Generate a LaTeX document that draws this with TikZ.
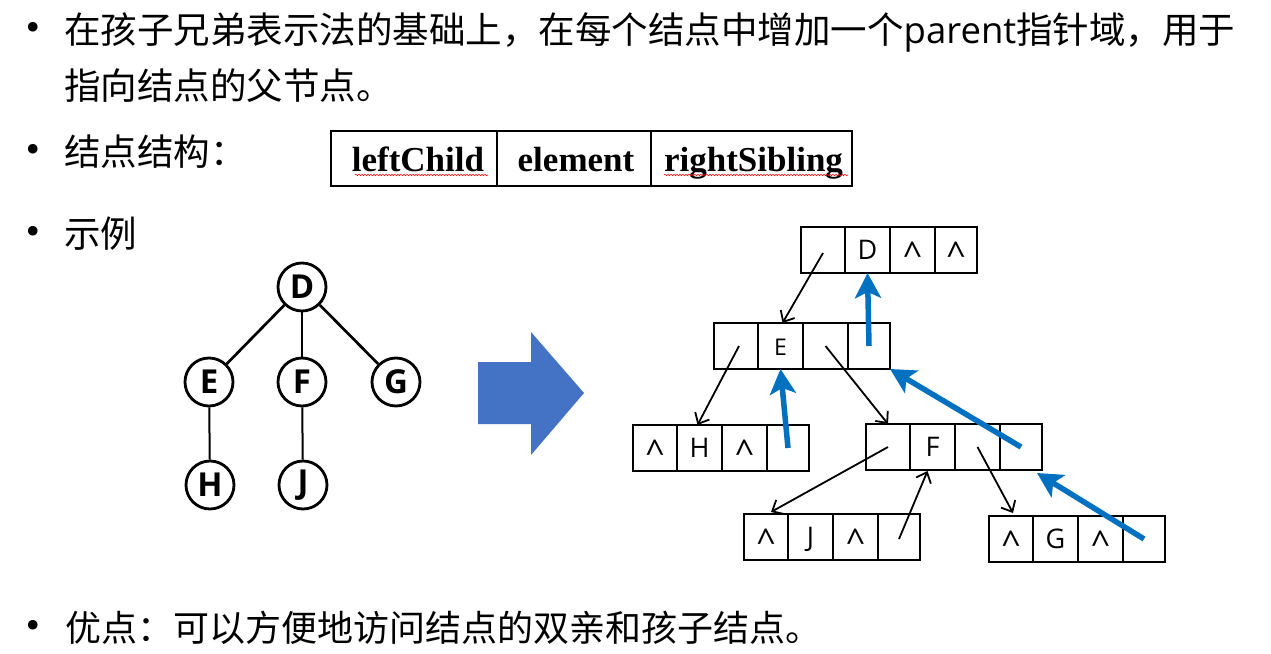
\documentclass[tikz,border=0pt]{standalone}
\usepackage{fontspec}
\setmainfont{Noto Sans CJK SC}
\newfontfamily\osans{Open Sans}
\newfontfamily\tnr{Liberation Serif}
\newfontfamily\djv{DejaVu Sans}
\usetikzlibrary{arrows.meta,decorations.pathmorphing}
\definecolor{bigblue}{HTML}{4472C4}
\definecolor{linkblue}{HTML}{0070C0}
\newcommand\upc{\raisebox{-7pt}{\fontsize{34}{36}\selectfont\textasciicircum}}
\newcommand\mkrecord[7]{%
  \node[cell, minimum width=44pt] (#11) at (#2,#3) {#4};
  \node[cell, minimum width=45pt] (#12) at (#11.north east) {#5};
  \node[cell, minimum width=45pt] (#13) at (#12.north east) {#6};
  \node[cell, minimum width=42pt] (#14) at (#13.north east) {#7};
}
\begin{document}
\begin{tikzpicture}[x=1pt,y=-1pt,
  txt/.style={anchor=base west, inner sep=0pt, font=\fontsize{36.5}{44}\selectfont},
  bul/.style={anchor=base, inner sep=0pt, font=\djv\fontsize{33}{36}\selectfont},
  cell/.style={draw, line width=2.6pt, minimum height=46pt, inner sep=0pt, outer sep=0pt,
    anchor=north west, text height=18pt, text depth=0pt, font=\osans\fontsize{27}{30}\selectfont},
  sc/.style={draw, line width=2.5pt, minimum height=55pt, inner sep=0pt, outer sep=0pt,
    anchor=north west, text height=26pt, text depth=0pt, font=\tnr\bfseries\fontsize{35}{40}\selectfont},
  circ/.style={circle, draw, line width=2.8pt, minimum size=48pt, inner sep=0pt,
    font=\osans\bfseries\fontsize{33}{36}\selectfont},
  thickedge/.style={line width=2.7pt},
  thinedge/.style={line width=2pt},
  blkarr/.style={draw=black, line width=1.8pt, -{Straight Barb[length=9pt,width=16pt]}},
  bluearr/.style={draw=linkblue, line width=5.5pt, -{Stealth[length=25pt,width=26pt,inset=6pt]}},
  squiggle/.style={draw=red, line width=0.6pt, decorate, decoration={snake, segment length=3pt, amplitude=0.7pt}}
]
\useasboundingbox[fill=white] (0,0) rectangle (1271,653);

% text lines
\node[bul] (b1) at (33,39) {•};
\node[txt] (l1) at (64,43) {在孩子兄弟表示法的基础上，在每个结点中增加一个{\osans parent}指针域，用于};
\node[txt] (l2) at (64,99) {指向结点的父节点。};
\node[bul] (b3) at (33,161) {•};
\node[txt] (l3) at (64,165) {结点结构：};
\node[bul] (b4) at (33,243) {•};
\node[txt] (l4) at (64,247) {示例};
\node[bul] (b5) at (33,637) {•};
\node[txt,font=\fontsize{36}{44}\selectfont] (l5) at (65,641) {优点：可以方便地访问结点的双亲和孩子结点。};

% node structure
\node[sc, minimum width=166pt] (s1) at (331,131) {\hspace{8pt}leftChild};
\node[sc, minimum width=154pt] (s2) at (s1.north east) {\hspace{4pt}element};
\node[sc, minimum width=201pt] (s3) at (s2.north east) {\hspace{4pt}rightSibling};
\draw[squiggle] (355,175) -- (488,175);
\draw[squiggle] (664,175) -- (848,175);

% tree
\node[circ] (tD) at (302,287) {D};
\node[circ] (tE) at (209,382) {E};
\node[circ] (tF) at (302,382) {F};
\node[circ] (tG) at (396,382) {G};
\node[circ] (tH) at (210,485) {H};
\node[circ] (tJ) at (303,485) {J};
\draw[thickedge] (tD) -- (tE);
\draw[thickedge] (tD) -- (tF);
\draw[thickedge] (tD) -- (tG);
\draw[thinedge] (tE) -- (tH);
\draw[thinedge] (tF) -- (tJ);

% big arrow
\fill[bigblue] (478,362) -- (531,362) -- (531,332) -- (584,393) -- (531,455) -- (531,424) -- (478,424) -- cycle;

% records
\mkrecord{D}{801}{227}{}{D}{\upc}{\upc}
\mkrecord{E}{714}{323}{}{\fontsize{23}{26}\selectfont E}{}{}
\mkrecord{H}{633}{425}{\upc}{H}{\upc}{}
\mkrecord{F}{866}{424}{}{F}{}{}
\mkrecord{J}{744}{514}{\upc}{J}{\upc}{}
\mkrecord{G}{989}{516}{\upc}{G}{\upc}{}

% child / sibling pointers
\draw[blkarr] ([yshift=-3pt]D1.center) -- ([xshift=2pt]E2.north);
\draw[blkarr] ([xshift=3pt]E1.center) -- ([xshift=-2pt]H2.north);
\draw[blkarr] (E3.center) -- (F1.north);
\draw[blkarr] (F1.center) -- ([xshift=5pt,yshift=2pt]J1.north);
\draw[blkarr] ([yshift=-2pt]J4.center) -- ([xshift=-5pt,yshift=-1pt]F2.south);
\draw[blkarr] (F3.center) -- ([xshift=2pt,yshift=3pt]G1.north);

% parent pointers
\draw[bluearr] (E4.center) -- (D2.south);
\draw[bluearr] (H4.center) -- (E2.south);
\draw[bluearr] (F4.center) -- (E4.south east);
\draw[bluearr] (G4.center) -- ([xshift=-5pt,yshift=-3pt]F4.south east);
\end{tikzpicture}
\end{document}
